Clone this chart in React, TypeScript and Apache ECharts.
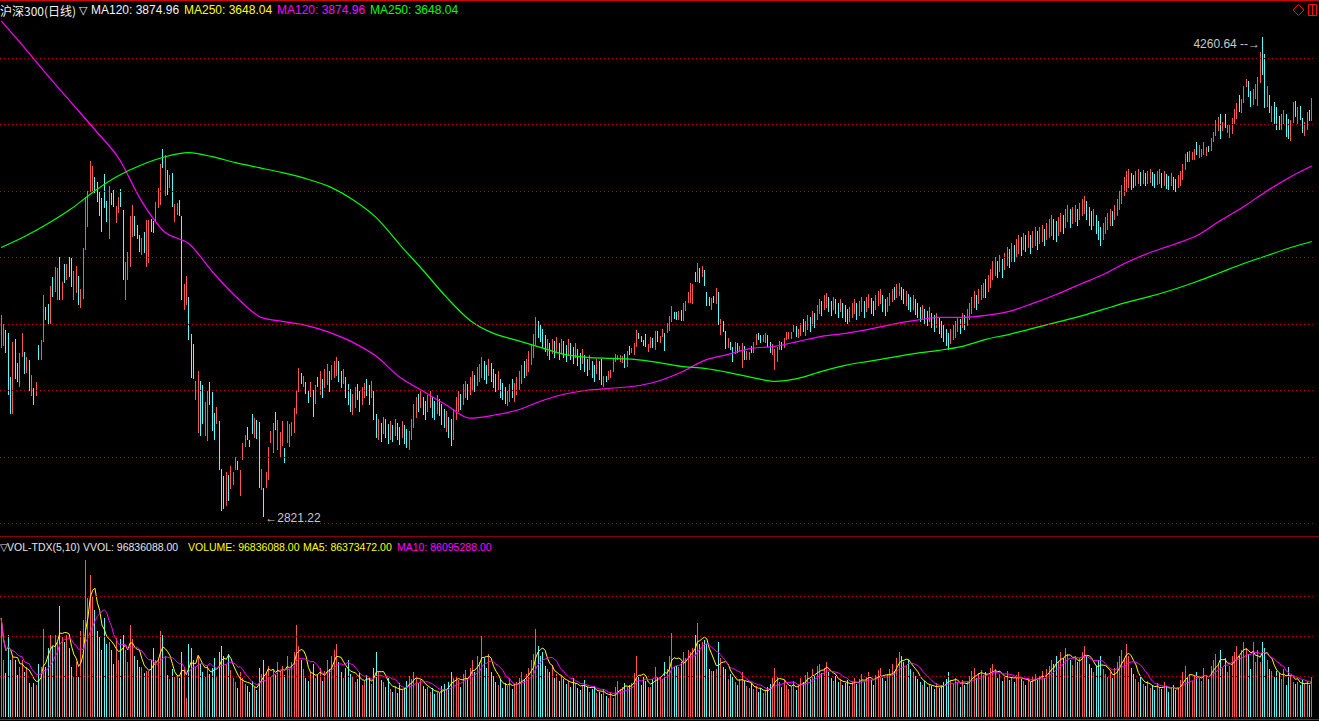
import React, { useEffect, useRef } from "react";
import * as echarts from "echarts";

// ---------------- data ----------------
const candleHigh = [
  3426,3399,3381,3372,3240,3345,3354,3282,3312,3372,3315,3300,3291,3246,3207,3225,3336,3351,3486,3450,3459,3513,3540,3570,3567,3600,3525,3579,3579,3600,
  3597,3558,3573,3543,3504,3627,3780,3798,3888,3873,3840,3825,3795,3777,3849,3768,3813,3792,3801,3753,3780,3804,3741,3585,3615,3723,3756,3723,3696,3666,
  3657,3675,3711,3711,3714,3708,3765,3807,3879,3924,3906,3861,3846,3852,3759,3762,3771,3723,3519,3543,3480,3369,3339,3228,3258,3228,3216,3165,3198,3225,
  3195,3132,3150,3108,2964,2943,2955,2946,2973,2955,3000,2988,2961,3042,3066,3090,3051,3129,3117,3111,3105,2964,2907,2955,3030,3078,3102,3135,3111,3075,
  3108,3027,3108,3099,3105,3147,3201,3267,3252,3243,3225,3198,3225,3201,3216,3240,3258,3234,3264,3279,3258,3276,3288,3300,3288,3258,3264,3240,3219,3204,
  3189,3210,3219,3198,3210,3222,3234,3216,3228,3198,3129,3114,3102,3120,3114,3099,3108,3096,3114,3102,3090,3108,3096,3084,3078,3114,3159,3180,3189,3198,
  3180,3168,3186,3198,3180,3168,3186,3174,3159,3144,3138,3120,3114,3144,3180,3198,3189,3219,3228,3219,3240,3258,3246,3270,3279,3300,3288,3276,3294,3282,
  3264,3249,3258,3234,3222,3210,3198,3219,3234,3222,3240,3258,3276,3288,3294,3318,3339,3369,3420,3408,3396,3384,3366,3354,3342,3354,3348,3360,3342,3354,
  3348,3336,3354,3342,3330,3342,3324,3312,3324,3306,3294,3306,3288,3276,3294,3288,3294,3243,3243,3258,3261,3294,3309,3306,3306,3303,3309,3318,3333,3327,
  3342,3381,3372,3363,3351,3369,3339,3360,3357,3378,3378,3363,3384,3372,3402,3423,3453,3435,3435,3438,3441,3462,3468,3495,3522,3519,3555,3582,3567,3573,
  3561,3495,3480,3477,3483,3507,3495,3414,3408,3378,3357,3345,3330,3345,3342,3333,3342,3333,3318,3315,3333,3345,3369,3372,3366,3366,3372,3366,3345,3339,
  3324,3330,3348,3345,3357,3375,3375,3375,3396,3393,3384,3402,3414,3408,3426,3420,3438,3432,3456,3474,3468,3486,3492,3480,3468,3480,3474,3462,3474,3462,
  3456,3444,3450,3462,3474,3462,3468,3480,3468,3480,3489,3477,3468,3486,3498,3504,3486,3474,3480,3492,3504,3510,3519,3522,3510,3504,3498,3489,3480,3486,
  3474,3462,3450,3456,3444,3438,3450,3432,3426,3432,3420,3408,3396,3384,3372,3384,3396,3408,3420,3414,3432,3426,3444,3462,3480,3498,3486,3504,3516,3522,
  3534,3546,3564,3588,3600,3588,3606,3594,3612,3630,3624,3642,3636,3654,3666,3660,3672,3666,3678,3666,3678,3690,3678,3690,3696,3684,3702,3714,3726,3714,
  3708,3720,3732,3726,3744,3756,3744,3750,3756,3744,3762,3774,3783,3768,3750,3738,3744,3726,3708,3690,3702,3720,3732,3744,3738,3756,3774,3798,3816,3840,
  3858,3864,3852,3846,3858,3864,3855,3861,3852,3858,3864,3855,3849,3858,3864,3852,3858,3849,3843,3852,3840,3834,3846,3858,3879,3909,3915,3918,3915,3924,
  3945,3936,3924,3945,3930,3933,3957,3975,4011,4020,4029,4005,4029,3996,3996,4017,4044,4062,4086,4074,4113,4134,4128,4098,4104,4119,4140,4215,4260.64,4209,
  4113,4086,4053,4065,4050,4023,4029,4041,4029,4014,4011,4065,4068,4050,4053,4017,4005,4035,4041,4077,
];

const candleLow = [
  3330,3336,3315,3189,3132,3132,3237,3228,3213,3303,3252,3255,3201,3186,3159,3186,3294,3294,3348,3414,3402,3402,3483,3498,3474,3474,3474,3525,3534,3543,
  3513,3474,3495,3459,3450,3477,3624,3693,3798,3798,3795,3768,3726,3678,3750,3708,3657,3759,3753,3705,3735,3753,3534,3474,3534,3573,3663,3666,3657,3618,
  3609,3615,3573,3585,3678,3675,3711,3750,3759,3870,3786,3789,3810,3753,3708,3729,3726,3474,3444,3459,3354,3240,3237,3174,3075,3066,3102,3066,3051,3159,
  3081,3054,3102,2964,2841,2847,2856,2871,2907,2919,2964,2964,2886,2994,3033,3054,3033,3072,3060,3057,2910,2904,2821.22,2910,2934,3045,3015,3084,3024,3003,
  3036,2985,3045,3033,3066,3075,3132,3198,3222,3213,3192,3165,3183,3123,3162,3213,3189,3180,3210,3219,3198,3234,3240,3246,3228,3210,3222,3180,3159,3138,
  3129,3150,3174,3138,3159,3180,3186,3159,3180,3114,3060,3054,3048,3072,3060,3042,3054,3048,3066,3054,3039,3060,3042,3030,3024,3054,3090,3120,3138,3150,
  3129,3114,3138,3150,3120,3114,3132,3126,3099,3090,3078,3060,3036,3054,3114,3138,3144,3159,3180,3174,3189,3204,3198,3216,3228,3240,3234,3222,3246,3228,
  3210,3198,3204,3180,3174,3162,3156,3168,3180,3168,3189,3204,3222,3240,3246,3258,3279,3300,3339,3360,3348,3330,3318,3306,3294,3312,3300,3318,3294,3312,
  3300,3288,3306,3294,3282,3300,3276,3264,3282,3258,3246,3264,3240,3228,3252,3234,3219,3213,3228,3234,3240,3258,3288,3294,3288,3285,3270,3273,3309,3315,
  3309,3333,3357,3348,3336,3333,3318,3330,3330,3324,3348,3345,3363,3321,3375,3381,3408,3417,3414,3414,3411,3411,3441,3465,3465,3462,3528,3528,3525,3543,
  3516,3456,3456,3444,3465,3462,3399,3369,3378,3327,3330,3324,3288,3312,3315,3318,3270,3294,3294,3294,3315,3315,3339,3354,3345,3348,3345,3333,3315,3309,
  3264,3288,3324,3324,3330,3354,3357,3357,3378,3363,3360,3366,3378,3366,3384,3378,3396,3390,3414,3432,3426,3444,3450,3438,3426,3444,3432,3420,3438,3420,
  3408,3402,3408,3420,3432,3414,3426,3438,3420,3438,3450,3432,3426,3444,3456,3462,3438,3426,3438,3456,3468,3474,3480,3486,3474,3462,3456,3444,3438,3444,
  3429,3420,3408,3414,3399,3396,3408,3390,3378,3390,3372,3360,3348,3336,3324,3342,3354,3360,3378,3372,3390,3384,3396,3414,3432,3450,3444,3462,3474,3480,
  3480,3498,3510,3534,3546,3540,3558,3540,3564,3576,3570,3588,3588,3600,3612,3606,3624,3618,3630,3612,3630,3636,3624,3642,3648,3636,3654,3660,3666,3654,
  3648,3666,3678,3672,3690,3708,3690,3702,3708,3696,3714,3726,3732,3714,3696,3684,3696,3672,3654,3636,3654,3672,3684,3696,3696,3714,3726,3744,3762,3786,
  3798,3810,3804,3810,3816,3822,3816,3822,3816,3822,3825,3816,3810,3819,3822,3810,3816,3807,3804,3816,3804,3798,3810,3816,3834,3864,3888,3888,3894,3894,
  3909,3900,3903,3909,3906,3918,3921,3948,3966,3981,3957,3981,3990,3975,3960,3972,4002,4017,4038,4035,4065,4113,4083,4053,4059,4077,4056,4125,4149,4050,
  4053,4035,4008,4002,3984,3984,3984,4002,3963,3957,3951,4005,4023,4002,4014,3975,3966,3984,4011,4011,
];

// u = closed up (red), d = closed down (cyan)
const candleDir = [
  "uuddd","udduu","dudud","uduud","duduu","dudud",
  "duudu","uuuuu","ddddd","duddu","udduu","uuddd",
  "uduud","duuud","ududu","udduu","ddduu","dduud",
  "ddudd","duduu","uduuu","dddud","duduu","uuduu",
  "uduuu","uuudu","ddudu","duduu","duuud","duddd",
  "uuddu","uddud","dudud","dudud","duddu","uuudu",
  "dduud","duddd","udduu","uduud","uuduu","uddud",
  "ddudd","duudu","uuudu","uuuud","dddud","ududu",
  "ddudd","uddud","duddu","ddudu","uuuuu","ududu",
  "uuddd","duudu","duudu","uuddu","duuuu","ududu",
  "dddud","ududd","uddud","uuduu","duudd","uuddu",
  "uuudu","uuuud","uuduu","duduu","duudd","uddud",
  "dduuu","duudu","udduu","udduu","uduud","duddu",
  "dddud","duddu","ddddd","uuuud","uduuu","uduuu",
  "duuuu","duduu","duduu","dudud","uuduu","duuud",
  "duudu","uduud","uuudd","duddd","uuuud","uuuuu",
  "uuddu","ududu","udduu","duddu","dduuu","uduuu",
  "duuuu","duuuu","duduu","uuudu","uuddu","uuudd",
  "ududd","duudd","uudud","duudu",
].join("");

// daily volume, millions of shares
const volumeM = [
  245,141,109,201,141,150,141,104,124,139,110,124,84,72,84,77,129,124,216,124,169,203,174,203,186,275,198,186,201,169,
  124,99,136,99,211,240,387,295,350,300,265,211,198,166,245,179,184,166,129,194,141,191,201,166,134,226,191,149,139,124,
  122,109,112,112,139,171,141,141,213,203,149,104,92,117,99,104,95,159,122,47,181,171,141,122,150,131,110,98,125,105,
  120,145,100,160,175,150,130,155,115,95,85,70,110,95,80,75,62,88,72,65,120,105,140,110,125,98,118,102,135,112,
  126,104,150,118,135,160,228,175,140,118,96,88,110,130,95,102,120,88,112,140,118,150,165,180,135,110,95,120,140,105,
  98,85,92,110,78,88,102,95,80,120,160,110,90,85,72,95,68,62,75,58,82,65,70,88,100,92,110,95,82,90,
  75,68,72,60,70,55,62,58,75,80,68,85,110,95,98,90,72,105,115,95,120,140,110,150,135,200,145,120,155,110,
  100,85,78,92,70,82,75,95,68,80,85,95,110,90,105,120,140,155,216,175,150,160,125,118,110,128,95,105,88,100,
  92,80,88,72,95,84,70,65,78,90,72,60,68,75,58,62,57,67,50,45,60,45,72,87,67,72,84,74,79,82,
  109,149,99,79,97,87,72,74,94,124,99,99,92,136,117,150,208,124,126,122,134,159,146,166,161,171,203,233,179,186,
  190,179,117,112,112,117,184,146,122,117,92,105,98,85,78,92,110,88,75,70,82,68,75,62,70,58,65,72,80,95,
  120,98,85,72,90,78,68,75,88,65,80,95,85,102,110,92,118,100,125,130,108,120,135,110,95,88,100,85,92,78,
  82,90,75,88,95,80,92,105,85,98,110,90,78,102,115,120,95,88,105,118,130,112,145,160,150,135,128,140,118,110,
  100,92,85,78,88,72,80,75,68,82,70,78,85,92,110,88,80,95,85,72,90,78,88,100,112,120,95,108,115,102,
  110,98,120,130,118,95,105,88,100,112,90,98,85,102,110,92,88,78,95,85,98,105,90,100,112,95,118,125,140,130,
  150,138,160,145,170,155,140,128,150,135,145,160,175,150,130,120,110,125,140,150,118,105,98,110,95,120,135,150,165,145,
  179,150,120,105,92,85,98,80,75,88,70,78,65,82,72,68,85,75,62,70,78,65,72,90,110,125,95,105,88,100,
  110,95,88,120,100,92,125,140,155,130,165,120,145,110,125,150,160,175,150,165,185,170,155,119,186,134,166,136,184,171,
  141,119,112,99,112,109,94,117,77,124,100,86,80,85,78,90,80,88,77,96.836088,
];

// MA120 / MA250 read every 10th day (last sample = last day)
const maSampleStep = 10;
const ma120Samples = [
  4311,4230,4146,4065,3984,3900,3768,3675,3642,3558,3483,3423,3408,3396,3375,3345,3303,3240,3198,3156,
  3117,3126,3141,3168,3189,3201,3207,3213,3228,3255,3291,3309,3327,3333,3348,3363,3372,3384,3399,3411,
  3420,3420,3426,3438,3462,3489,3519,3549,3585,3615,3639,3666,3711,3753,3801,3843,3874.96,
];
const ma250Samples = [
  3630,3663,3702,3747,3801,3846,3879,3903,3915,3903,3885,3870,3855,3837,3813,3774,3720,3639,3561,3480,
  3411,3372,3351,3330,3309,3300,3297,3294,3285,3273,3267,3255,3240,3228,3237,3258,3276,3288,3300,3312,
  3321,3333,3354,3369,3387,3405,3423,3444,3465,3483,3504,3528,3555,3582,3606,3630,3648.04,
];

const priceGridLines = [2800, 3000, 3200, 3400, 3600, 3800, 4000, 4200];
const volumeGridLines = [100, 200, 300];

const titleMain = "沪深300(日线)";
const mainLegend = [
  { text: "MA120: 3874.96", color: "#f2f2f2", x: 91 },
  { text: "MA250: 3648.04", color: "#ffff00", x: 184 },
  { text: "MA120: 3874.96", color: "#ff00ff", x: 277 },
  { text: "MA250: 3648.04", color: "#00ff00", x: 370 },
];
const volLegend = [
  { text: "VOL-TDX(5,10)", color: "#e6e6e6", x: 7 },
  { text: "VVOL: 96836088.00", color: "#e6e6e6", x: 83 },
  { text: "VOLUME: 96836088.00", color: "#ffff00", x: 188 },
  { text: "MA5: 86373472.00", color: "#ffff00", x: 303 },
  { text: "MA10: 86095288.00", color: "#ff00ff", x: 397 },
];

// ---------------- helpers ----------------
const UP = "#ff5454";
const DOWN = "#54fcfc";
const FONT = '"Liberation Sans", Arial, "DejaVu Sans", sans-serif';
const CJK = '"Noto Sans CJK SC", "Liberation Sans", sans-serif';

function movingAvg(arr: number[], n: number) {
  const out: number[] = [];
  let sum = 0;
  for (let i = 0; i < arr.length; i++) {
    sum += arr[i];
    if (i >= n) sum -= arr[i - n];
    out.push(+(sum / Math.min(i + 1, n)).toFixed(3));
  }
  return out;
}

export default function App() {
  const ref = useRef<HTMLDivElement>(null);

  useEffect(() => {
    document.body.style.margin = "0";
    document.body.style.background = "#000";
    const el = ref.current;
    if (!el) return;
    const chart = echarts.init(el, null, { renderer: "svg" });

    const N = candleHigh.length;
    const cats = Array.from({ length: N }, (_, i) => String(i));
    const isUp = (i: number) => (candleDir[i] || "u") === "u";
    const candleData = candleLow.map((lo, i) => [i, lo, candleHigh[i], isUp(i) ? 1 : 0]);
    const volData = volumeM.map((v, i) => [i, v, isUp(i) ? 1 : 0]);
    const ma5 = movingAvg(volumeM, 5);
    const ma10 = movingAvg(volumeM, 10);
    const sampleIdx = (k: number, len: number) => (k === len - 1 ? N - 1 : k * maSampleStep);
    const ma120Data = ma120Samples.map((v, k) => [sampleIdx(k, ma120Samples.length), v]);
    const ma250Data = ma250Samples.map((v, k) => [sampleIdx(k, ma250Samples.length), v]);

    let hiIdx = 0;
    let loIdx = 0;
    candleHigh.forEach((h, i) => { if (h > candleHigh[hiIdx]) hiIdx = i; });
    candleLow.forEach((l, i) => { if (l < candleLow[loIdx]) loIdx = i; });

    const dotted = { color: "#b00000", width: 1, type: [1, 3] as any };

    const option: any = {
      animation: false,
      backgroundColor: "#000000",
      grid: [
        { left: 0, right: 6, top: 0, height: 536 },
        { left: 0, right: 6, top: 538, height: 179 },
      ],
      xAxis: [
        { type: "category", gridIndex: 0, data: cats, boundaryGap: true, show: false },
        { type: "category", gridIndex: 1, data: cats, boundaryGap: true, show: false },
      ],
      yAxis: [
        { type: "value", gridIndex: 0, min: 2763, max: 4374, show: false, splitLine: { show: false } },
        { type: "value", gridIndex: 1, min: 0, max: 444, show: false, splitLine: { show: false } },
      ],
      series: [
        {
          type: "line",
          name: "grid-price",
          xAxisIndex: 0,
          yAxisIndex: 0,
          data: [],
          z: 1,
          silent: true,
          markLine: {
            silent: true,
            symbol: ["none", "none"],
            label: { show: false },
            lineStyle: dotted,
            data: priceGridLines.map((v) => ({ yAxis: v })),
          },
        },
        {
          type: "line",
          name: "grid-vol",
          xAxisIndex: 1,
          yAxisIndex: 1,
          data: [],
          z: 1,
          silent: true,
          markLine: {
            silent: true,
            symbol: ["none", "none"],
            label: { show: false },
            lineStyle: dotted,
            data: volumeGridLines.map((v) => ({ yAxis: v })),
          },
        },
        {
          type: "custom",
          name: "沪深300",
          xAxisIndex: 0,
          yAxisIndex: 0,
          z: 3,
          silent: true,
          encode: { x: 0, y: [1, 2] },
          data: candleData,
          renderItem: (_p: any, api: any) => {
            const i = api.value(0);
            const top = api.coord([i, api.value(2)]);
            const bot = api.coord([i, api.value(1)]);
            const x = Math.round(top[0] - 0.5) + 0.5;
            return {
              type: "line",
              shape: { x1: x, y1: Math.floor(top[1]), x2: x, y2: Math.ceil(bot[1]) },
              style: { stroke: api.value(3) ? UP : DOWN, lineWidth: 1 },
            };
          },
          markPoint: {
            silent: true,
            symbol: "rect",
            symbolSize: 1,
            itemStyle: { color: "rgba(0,0,0,0)" },
            data: [
              {
                coord: [hiIdx, candleHigh[hiIdx]],
                label: {
                  show: true,
                  position: "left",
                  distance: 2,
                  offset: [0, 6],
                  formatter: candleHigh[hiIdx].toFixed(2) + " --→",
                  color: "#c8c8c8",
                  fontSize: 12,
                  fontFamily: FONT,
                },
              },
              {
                coord: [loIdx, candleLow[loIdx]],
                label: {
                  show: true,
                  position: "right",
                  distance: 1,
                  offset: [0, 1],
                  formatter: "←" + candleLow[loIdx].toFixed(2),
                  color: "#c8c8c8",
                  fontSize: 12,
                  fontFamily: FONT,
                },
              },
            ],
          },
        },
        {
          type: "line",
          name: "MA120",
          xAxisIndex: 0,
          yAxisIndex: 0,
          data: ma120Data,
          showSymbol: false,
          smooth: 0.3,
          silent: true,
          z: 4,
          lineStyle: { color: "#ff00ff", width: 1.2 },
        },
        {
          type: "line",
          name: "MA250",
          xAxisIndex: 0,
          yAxisIndex: 0,
          data: ma250Data,
          showSymbol: false,
          smooth: 0.3,
          silent: true,
          z: 4,
          lineStyle: { color: "#00ff00", width: 1.2 },
        },
        {
          type: "custom",
          name: "VOLUME",
          xAxisIndex: 1,
          yAxisIndex: 1,
          z: 3,
          silent: true,
          encode: { x: 0, y: 1 },
          data: volData,
          renderItem: (_p: any, api: any) => {
            const i = api.value(0);
            const top = api.coord([i, api.value(1)]);
            const base = api.coord([i, 0]);
            const x = Math.round(top[0] - 0.5) + 0.5;
            return {
              type: "line",
              shape: { x1: x, y1: Math.floor(top[1]), x2: x, y2: Math.round(base[1]) },
              style: { stroke: api.value(2) ? UP : DOWN, lineWidth: 1 },
            };
          },
        },
        {
          type: "line",
          name: "MA5",
          xAxisIndex: 1,
          yAxisIndex: 1,
          data: ma5,
          showSymbol: false,
          silent: true,
          z: 4,
          lineStyle: { color: "#ffff00", width: 1 },
        },
        {
          type: "line",
          name: "MA10",
          xAxisIndex: 1,
          yAxisIndex: 1,
          data: ma10,
          showSymbol: false,
          silent: true,
          z: 4,
          lineStyle: { color: "#ff00ff", width: 1 },
        },
      ],
      graphic: [
        { type: "line", silent: true, z: 50, shape: { x1: 0, y1: 0.5, x2: 1319, y2: 0.5 }, style: { stroke: "#d40000", lineWidth: 1 } },
        { type: "line", silent: true, z: 50, shape: { x1: 0, y1: 536.5, x2: 1319, y2: 536.5 }, style: { stroke: "#8c0000", lineWidth: 1 } },
        { type: "line", silent: true, z: 50, shape: { x1: 0, y1: 719.5, x2: 1319, y2: 719.5 }, style: { stroke: "#c80000", lineWidth: 1 } },
        {
          type: "polygon", silent: true, z: 50,
          shape: { points: [[1298.5, 4.5], [1304, 10], [1298.5, 15.5], [1293, 10]] },
          style: { fill: "none", stroke: "#ff1010", lineWidth: 1 },
        },
        { type: "rect", silent: true, z: 50, shape: { x: 1308.5, y: 4.5, width: 8, height: 11 }, style: { fill: "none", stroke: "#ff1010", lineWidth: 1 } },
        { type: "line", silent: true, z: 50, shape: { x1: 1312.5, y1: 4.5, x2: 1312.5, y2: 15.5 }, style: { stroke: "#ff1010", lineWidth: 1 } },
        {
          type: "text", silent: true, z: 60, x: 0, y: 10,
          style: { text: titleMain, fill: "#f2f2f2", fontSize: 12, fontFamily: CJK, verticalAlign: "middle" },
        },
        {
          type: "text", silent: true, z: 60, x: 79, y: 10,
          style: { text: "▽", fill: "#f2f2f2", fontSize: 11, fontFamily: '"DejaVu Sans", sans-serif', verticalAlign: "middle" },
        },
        ...mainLegend.map((t) => ({
          type: "text", silent: true, z: 60, x: t.x, y: 10,
          style: { text: t.text, fill: t.color, fontSize: 12, fontFamily: FONT, verticalAlign: "middle" },
        })),
        {
          type: "text", silent: true, z: 60, x: 0, y: 547,
          style: { text: "▽", fill: "#e6e6e6", fontSize: 10, fontFamily: '"DejaVu Sans", sans-serif', verticalAlign: "middle" },
        },
        ...volLegend.map((t) => ({
          type: "text", silent: true, z: 60, x: t.x, y: 547,
          style: { text: t.text, fill: t.color, fontSize: 10.5, fontFamily: FONT, verticalAlign: "middle" },
        })),
      ],
    };

    chart.setOption(option);
    return () => chart.dispose();
  }, []);

  return (
    <div
      ref={ref}
      style={{ position: "fixed", left: 0, top: 0, width: 1319, height: 721, background: "#000" }}
    />
  );
}
